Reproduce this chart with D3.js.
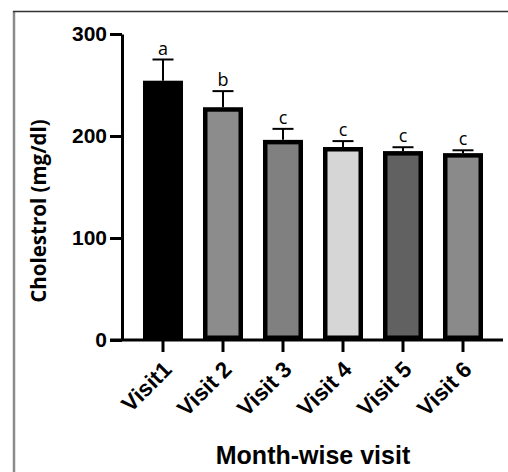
<!DOCTYPE html>
<html>
<head>
<meta charset="utf-8">
<script src="https://cdn.jsdelivr.net/npm/d3@7"></script>
<style>
  body { margin: 0; background: #fff; }
</style>
</head>
<body>
<script>
// chart data
var visits = ["Visit1", "Visit 2", "Visit 3", "Visit 4", "Visit 5", "Visit 6"];
var means = [252, 226, 194, 187, 183, 181];
var errTops = [275, 244, 207, 195, 189, 186];
var letters = ["a", "b", "c", "c", "c", "c"];
var fills = ["#000000", "#8c8c8c", "#808080", "#d6d6d6", "#616161", "#8a8a8a"];
var yTicks = [0, 100, 200, 300];

var w = 508, h = 472;

var svg = d3.select("body")
    .append("svg")
    .attr("width", w)
    .attr("height", h);

// frame around the figure
svg.append("line")
    .attr("x1", 14).attr("x2", 14).attr("y1", 11).attr("y2", h)
    .attr("stroke", "#8a8a8a").attr("stroke-width", 2.5);
svg.append("line")
    .attr("x1", 13).attr("x2", w).attr("y1", 11.5).attr("y2", 11.5)
    .attr("stroke", "#333").attr("stroke-width", 1.5);

// scales
var x = d3.scaleBand()
    .domain(visits)
    .range([133, 493])
    .paddingInner(1 / 3)
    .paddingOuter(1 / 6);

var y = d3.scaleLinear()
    .domain([0, 300])
    .range([340, 34]);

var bw = 4.5; // bar outline width

// bars
svg.selectAll(".bar")
    .data(visits)
    .enter()
    .append("rect")
    .attr("class", "bar")
    .attr("x", function(d) { return x(d) + bw / 2; })
    .attr("width", x.bandwidth() - bw)
    .attr("y", function(d, i) { return y(means[i]); })
    .attr("height", function(d, i) { return y(0) - y(means[i]) - bw / 2; })
    .attr("fill", function(d, i) { return fills[i]; })
    .attr("stroke", "#000")
    .attr("stroke-width", bw);

// error bars (upper only)
var err = svg.selectAll(".err")
    .data(visits)
    .enter()
    .append("g")
    .attr("class", "err")
    .attr("stroke", "#000")
    .attr("stroke-width", 2);

err.append("line")
    .attr("x1", function(d) { return x(d) + x.bandwidth() / 2; })
    .attr("x2", function(d) { return x(d) + x.bandwidth() / 2; })
    .attr("y1", function(d, i) { return y(means[i]) - bw / 2; })
    .attr("y2", function(d, i) { return y(errTops[i]); });

err.append("line")
    .attr("x1", function(d) { return x(d) + x.bandwidth() / 2 - 10.5; })
    .attr("x2", function(d) { return x(d) + x.bandwidth() / 2 + 10.5; })
    .attr("y1", function(d, i) { return y(errTops[i]); })
    .attr("y2", function(d, i) { return y(errTops[i]); });

// significance letters
svg.selectAll(".sig")
    .data(visits)
    .enter()
    .append("text")
    .attr("class", "sig")
    .attr("x", function(d) { return x(d) + x.bandwidth() / 2; })
    .attr("y", function(d, i) { return y(errTops[i]) - 5; })
    .attr("text-anchor", "middle")
    .style("font-family", "'Open Sans', sans-serif")
    .style("font-size", "18px")
    .text(function(d, i) { return letters[i]; });

// y axis
var yAxis = d3.axisLeft(y)
    .tickValues(yTicks)
    .tickSize(12)
    .tickPadding(3)
    .tickSizeOuter(0);

var yg = svg.append("g")
    .attr("transform", "translate(122,0)")
    .call(yAxis);
yg.select(".domain").attr("stroke-width", 3).attr("stroke", "#000");
yg.selectAll(".tick line").attr("stroke-width", 3).attr("stroke", "#000");
yg.selectAll(".tick text")
    .style("font-family", "'Liberation Sans', Arial, sans-serif")
    .style("font-weight", "bold")
    .style("font-size", "21px")
    .attr("fill", "#000");

// x axis
var xAxis = d3.axisBottom(x)
    .tickSize(12)
    .tickSizeOuter(0);

var xg = svg.append("g")
    .attr("transform", "translate(0,340)")
    .call(xAxis);
xg.select(".domain").remove();
xg.append("line")
    .attr("x1", 110).attr("x2", 503)
    .attr("stroke", "#000").attr("stroke-width", 3);
xg.selectAll(".tick line").attr("stroke-width", 3).attr("stroke", "#000");
xg.selectAll(".tick text")
    .attr("text-anchor", "end")
    .attr("x", 0).attr("y", 0).attr("dy", 0)
    .attr("transform", "translate(10,31) rotate(-45)")
    .style("font-family", "'Liberation Sans', Arial, sans-serif")
    .style("font-weight", "bold")
    .style("font-size", "22.5px")
    .attr("fill", "#000");

// axis titles
svg.append("text")
    .attr("transform", "translate(46,211) rotate(-90)")
    .attr("text-anchor", "middle")
    .style("font-family", "'Open Sans', sans-serif")
    .style("font-weight", "bold")
    .style("font-size", "20.5px")
    .text("Cholestrol (mg/dl)");

svg.append("text")
    .attr("x", 313)
    .attr("y", 464)
    .attr("text-anchor", "middle")
    .style("font-family", "'Liberation Sans', Arial, sans-serif")
    .style("font-weight", "bold")
    .style("font-size", "25px")
    .text("Month-wise visit");
</script>
</body>
</html>
